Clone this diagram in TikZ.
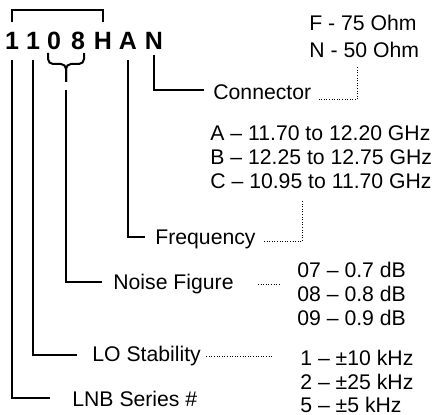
\documentclass[tikz,border=0pt]{standalone}
\usepackage{fontspec}
\setmainfont{Liberation Sans}
\usetikzlibrary{positioning,calc}

\begin{document}
\begin{tikzpicture}[
  x=0.5pt, y=-0.5pt,
  code/.style={font=\fontsize{12.5}{14}\selectfont\bfseries, inner sep=0pt, anchor=base},
  lbl/.style={font=\fontsize{10.6}{12}\selectfont, inner sep=0pt, anchor=base west},
  opts/.style={font=\fontsize{10.6}{12}\selectfont, inner sep=0pt, anchor=north west, align=left},
  wire/.style={line width=1pt},
  dots/.style={line width=0.5pt, dash pattern=on 0.5pt off 0.8pt},
]
\useasboundingbox (0,0) rectangle (438,415);

% ---------------- the part number -----------------------------------
\foreach \ch/\x [count=\i] in {1/12, 1/33, 0/54, 8/78, H/103, A/128, N/154}
  \node[code] (c\i) at (\x,50) {\ch};

% bracket over the series digits
\draw[wire, shorten <=5pt, shorten >=5pt] (c1.north) -- ++(0,-22) -| (c5.north);

% brace under the noise figure digits
\coordinate (brtip) at (66,82);
\draw[wire, rounded corners=2.5pt] (48,53) |- (66,64) -- (brtip);
\draw[wire, rounded corners=2.5pt] (84,53) |- (66,64) -- (brtip);

% ---------------- labels --------------------------------------------
\node[lbl] (conn)   at (213,100) {Connector};
\node[lbl] (freq)   at (155,245) {Frequency};
\node[lbl] (noise)  at (113,290) {Noise Figure};
\node[lbl] (lostab) at (92,362)  {LO Stability};
\node[lbl] (series) at (72,407)  {LNB Series \#};

% ---------------- options -------------------------------------------
\node[opts, font=\fontsize{10.6}{13.5}\selectfont] (connopts) at (309,15)
  {F - 75 Ohm\\N - 50 Ohm};
\node[opts] (freqopts) at (210,125)
  {A – 11.70 to 12.20 GHz\\B – 12.25 to 12.75 GHz\\C – 10.95 to 11.70 GHz};
\node[opts] (noiseopts) at (297,262)
  {07 – 0.7 dB\\08 – 0.8 dB\\09 – 0.9 dB};
\node[opts, font=\fontsize{10.6}{11.75}\selectfont] (loopts) at (300,350)
  {1 – ±10 kHz\\2 – ±25 kHz\\5 – ±5 kHz};

% ---------------- connectors ----------------------------------------
\draw[wire, shorten <=2.5pt, shorten >=4.5pt] (c7.south) |- ([yshift=5pt]conn.base west);
\draw[wire, shorten <=5pt, shorten >=5pt]     (c6.south) |- ([yshift=4pt]freq.base west);
\draw[wire, shorten <=4pt, shorten >=5.5pt]   (brtip)    |- ([yshift=4pt]noise.base west);
\draw[wire, shorten <=5pt, shorten >=7.5pt]   (c2.south) |- ([yshift=3.5pt]lostab.base west);
\draw[wire, shorten <=5pt, shorten >=11pt]    (c1.south) |- ([yshift=4.5pt]series.base west);

% dotted leaders to the option lists
\coordinate (connend) at (357,67);
\coordinate (freqend) at (302,200);
\draw[dots, shorten <=3.5pt] (conn.base east) -| (connend);
\draw[dots, shorten <=4pt]   ([yshift=1.5pt]freq.base east) -| (freqend);
\draw[dots, shorten <=12pt, shorten >=8.5pt]
  ([yshift=2.5pt]noise.base east) -- ([yshift=2.5pt]noise.base east -| noiseopts.west);
\draw[dots, shorten <=2.5pt, shorten >=14pt]
  ([yshift=2.5pt]lostab.base east) -- ([yshift=2.5pt]lostab.base east -| loopts.west);

\end{tikzpicture}
\end{document}
